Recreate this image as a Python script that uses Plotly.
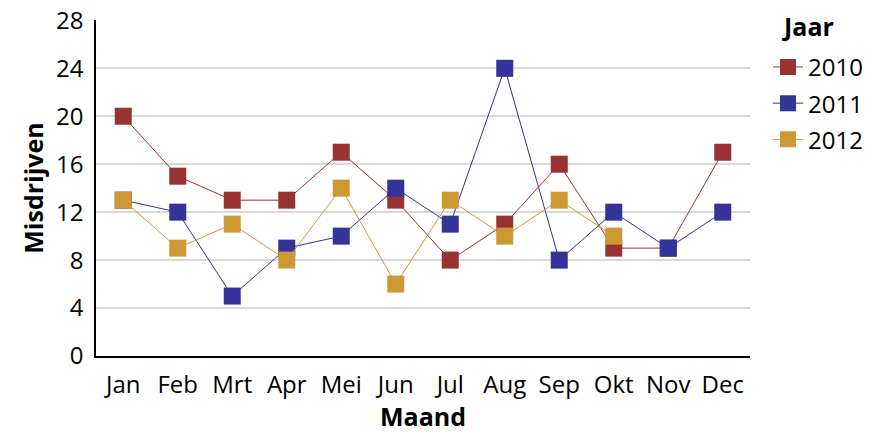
import plotly.graph_objects as go

maanden = ["Jan", "Feb", "Mrt", "Apr", "Mei", "Jun", "Jul", "Aug", "Sep", "Okt", "Nov", "Dec"]
v2010 = [20, 15, 13, 13, 17, 13, 8, 11, 16, 9, 9, 17]
v2011 = [13, 12, 5, 9, 10, 14, 11, 24, 8, 12, 9, 12]
v2012 = [13, 9, 11, 8, 14, 6, 13, 10, 13, 10, None, None]
y_ticks = [0, 4, 8, 12, 16, 20, 24, 28]

series = [("2010", v2010, "#993333"), ("2011", v2011, "#333399"), ("2012", v2012, "#CC9933")]

fig = go.Figure()
for name, vals, col in series:
    fig.add_trace(go.Scatter(
        x=maanden, y=vals, name=name, mode="lines+markers",
        line=dict(color=col, width=1),
        marker=dict(symbol="square", size=17, color=col),
        connectgaps=False, legendgroup=name,
    ))

font = "Open Sans, Noto Sans, sans-serif"
fig.update_layout(
    width=879, height=433,
    margin=dict(l=96, r=129, t=20, b=77, autoexpand=False),
    plot_bgcolor="white", paper_bgcolor="white",
    font=dict(family=font, size=24, color="black"),
    xaxis=dict(
        type="category", range=[-0.5, 11.5],
        showline=True, linecolor="black", linewidth=1.5,
        showgrid=False, ticks="", tickfont=dict(size=24),
        ticklabelstandoff=6,
        title=dict(text="<b>Maand</b>", font=dict(size=25), standoff=0),
        automargin=False,
    ),
    yaxis=dict(
        range=[0, 28.03], tickvals=y_ticks,
        showline=True, linecolor="black", linewidth=1.5,
        showgrid=True, gridcolor="#D9D9D9", gridwidth=1.5,
        zeroline=False, ticks="", tickfont=dict(size=24),
        ticklabelstandoff=6, ticklabeloverflow="allow",
        title=dict(text="<b>Misdrijven</b>", font=dict(size=25), standoff=5),
        automargin=False,
    ),
    legend=dict(
        x=1.0275, xanchor="left", y=0.926, yanchor="top",
        font=dict(size=24), tracegroupgap=2,
        bgcolor="rgba(0,0,0,0)",
    ),
    annotations=[dict(
        text="<b>Jaar</b>", xref="paper", yref="paper",
        x=1.0459, y=0.982, xanchor="left", yanchor="middle",
        showarrow=False, font=dict(size=25),
    )],
)

fig.write_html(
    "out.html",
    config={"displayModeBar": False},
    post_script="document.body.style.margin='0';document.body.style.overflow='hidden';",
)
